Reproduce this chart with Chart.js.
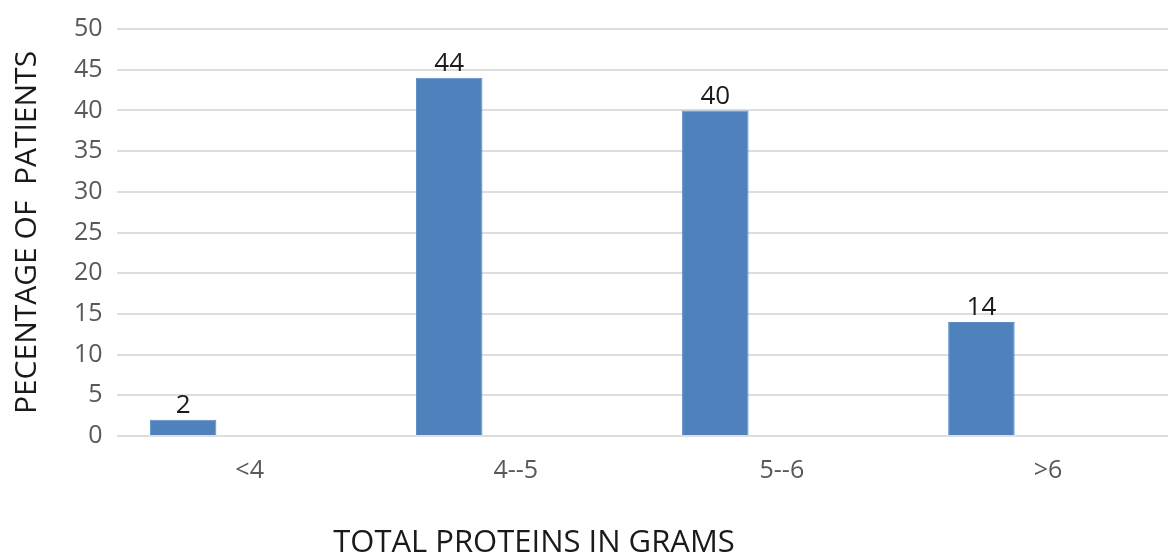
<!DOCTYPE html>
<html>
<head>
<meta charset="utf-8">
<script src="https://cdn.jsdelivr.net/npm/chart.js@4/dist/chart.umd.min.js"></script>
<style>
  html, body { margin: 0; padding: 0; background: #fff; overflow: hidden; }
  #wrap { position: relative; width: 1168px; height: 554px; overflow: hidden; }
  #box { position: absolute; left: 0; top: 0; width: 1190px; height: 554px; }
  #xTitle {
    position: absolute; left: 0; width: 1068px; top: 518px;
    text-align: center; font-family: "Open Sans", sans-serif; font-size: 31px;
    color: #1a1a1a; line-height: 44px; white-space: pre;
  }
</style>
</head>
<body>
<div id="wrap">
  <div id="box"><canvas id="chart"></canvas></div>
  <div id="xTitle">TOTAL PROTEINS IN GRAMS</div>
</div>
<script>
// Share of patients by total protein band
const categories = ['<4', '4--5', '5--6', '>6'];
const patientPercent = [2, 44, 40, 14];
// empty companion series that keeps each bar in the left half of its band
const emptySeries = [null, null, null, null];
const yTicks = [0, 5, 10, 15, 20, 25, 30, 35, 40, 45, 50];

const FONT = '"Open Sans", sans-serif';

// writes each bar's value just above it
const valueLabels = {
  id: 'valueLabels',
  afterDatasetsDraw(chart) {
    const ctx = chart.ctx;
    const meta = chart.getDatasetMeta(0);
    ctx.save();
    ctx.font = '26px ' + FONT;
    ctx.fillStyle = '#1a1a1a';
    ctx.textAlign = 'center';
    ctx.textBaseline = 'bottom';
    meta.data.forEach((bar, i) => {
      const v = chart.data.datasets[0].data[i];
      ctx.fillText(String(v), bar.x, bar.y - 1);
    });
    ctx.restore();
  }
};

new Chart(document.getElementById('chart'), {
  type: 'bar',
  data: {
    labels: categories,
    datasets: [
      { data: patientPercent, backgroundColor: '#4f81bd', borderColor: '#5b8cc6', borderWidth: 1,
        categoryPercentage: 1.0, barPercentage: 0.5 },
      { data: emptySeries, backgroundColor: '#c0504d', categoryPercentage: 1.0, barPercentage: 0.5 }
    ]
  },
  options: {
    responsive: true,
    maintainAspectRatio: false,
    animation: false,
    layout: { padding: { left: 9, right: 9, top: 8, bottom: 56 } },
    plugins: { legend: { display: false }, tooltip: { enabled: false } },
    scales: {
      x: {
        grid: { display: false },
        border: { display: false },
        ticks: { color: '#595959', font: { family: FONT, size: 25 }, padding: 12 }
      },
      y: {
        min: 0, max: 50,
        afterBuildTicks(scale) { scale.ticks = yTicks.map(v => ({ value: v })); },
        grid: { color: '#dedede', lineWidth: 2, drawTicks: false },
        border: { display: false },
        ticks: { color: '#595959', font: { family: FONT, size: 25 }, padding: 14 },
        title: {
          display: true, text: 'PECENTAGE OF  PATIENTS', color: '#1a1a1a',
          font: { family: FONT, size: 30 }, padding: { top: 0, bottom: 15 }
        }
      }
    }
  },
  plugins: [valueLabels]
});
</script>
</body>
</html>
